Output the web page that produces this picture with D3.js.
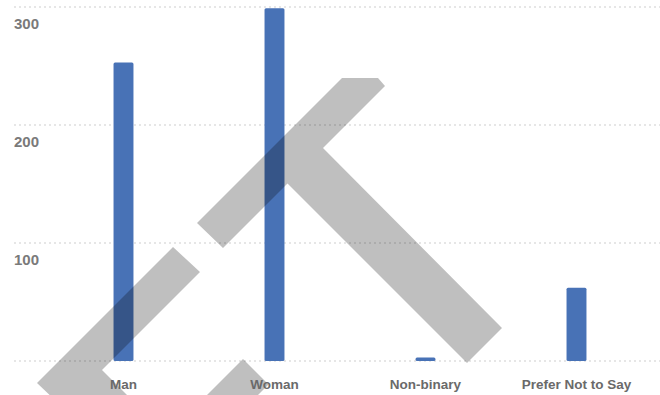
<!DOCTYPE html>
<html>
<head>
<meta charset="utf-8">
<script src="https://cdn.jsdelivr.net/npm/d3@7"></script>
<style>
  html, body { margin: 0; padding: 0; background: #ffffff; }
  svg { display: block; }
</style>
</head>
<body>
<script>
// Respondents by gender
const categories = ["Man", "Woman", "Non-binary", "Prefer Not to Say"];
const counts = [253, 299, 3, 62];
const tickValues = [100, 200, 300];
const gridValues = [0, 100, 200, 300];

const W = 660, H = 395;
const svg = d3.select("body").append("svg").attr("width", W).attr("height", H);

const x = d3.scaleBand().domain(categories).range([48, 652])
  .paddingInner(0.868).paddingOuter(0.434);
const y = d3.scaleLinear().domain([0, 300]).range([361, 7]);

// dotted gridlines
svg.append("g").selectAll("line").data(gridValues).join("line")
  .attr("x1", 14).attr("x2", W)
  .attr("y1", d => y(d)).attr("y2", d => y(d))
  .attr("stroke", "#dedede").attr("stroke-width", 1.6)
  .attr("stroke-dasharray", "2,3");

// value axis labels sit just under their gridline
svg.append("g").selectAll("text").data(tickValues).join("text")
  .attr("x", 14).attr("y", d => y(d) + 18)
  .attr("dominant-baseline", "middle")
  .attr("font-family", "Liberation Sans, Arial, sans-serif")
  .attr("font-weight", "bold").attr("font-size", 15)
  .attr("fill", "#7a7a7a")
  .text(d => d);

// bars
svg.append("g").selectAll("rect").data(categories).join("rect")
  .attr("x", d => x(d))
  .attr("width", x.bandwidth())
  .attr("y", (d, i) => y(counts[i]))
  .attr("height", (d, i) => y(0) - y(counts[i]))
  .attr("rx", 1.5)
  .attr("fill", "#4872b6");

// translucent grey stamp drawn across the plot
const stamp = svg.append("g").attr("fill", "#000").attr("fill-opacity", 0.25);
const shapes = [
  [[342,78],[378,78],[385,86],[323,148],[502,328],[467,363],[287.5,183.5],[223,248],[197,223]],
  [[173,247],[200,272],[102,370],[135,403],[58,403],[37,383]],
  [[243,359],[268.5,384.5],[250,403],[199,403]]
];
stamp.selectAll("path").data(shapes).join("path")
  .attr("d", d => "M" + d.map(p => p.join(",")).join("L") + "Z");

// category labels
svg.append("g").selectAll("text").data(categories).join("text")
  .attr("x", d => x(d) + x.bandwidth() / 2)
  .attr("y", 385)
  .attr("text-anchor", "middle")
  .attr("dominant-baseline", "middle")
  .attr("font-family", "Liberation Sans, Arial, sans-serif")
  .attr("font-weight", "bold").attr("font-size", 13.5)
  .attr("fill", "#6a6a6a")
  .text(d => d);
</script>
</body>
</html>
